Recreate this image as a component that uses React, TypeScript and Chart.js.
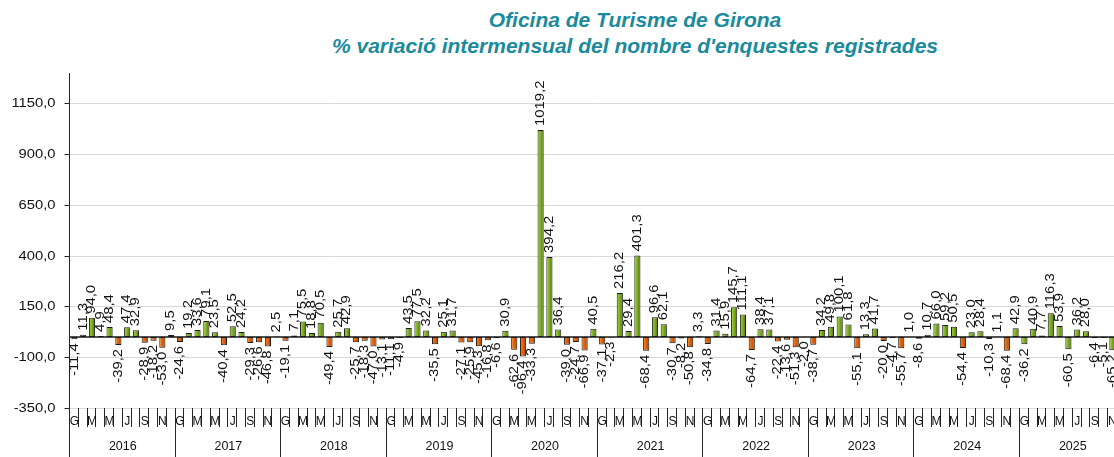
import React, { useEffect, useRef } from 'react';
import { Chart, registerables } from 'chart.js';

Chart.register(...registerables);

const TITLE_1 = 'Oficina de Turisme de Girona';
const TITLE_2 = "% variació intermensual del nombre d'enquestes registrades";

const YEARS = ['2016', '2017', '2018', '2019', '2020', '2021', '2022', '2023', '2024', '2025'];
const MONTH_INITIALS = ['G', 'F', 'M', 'A', 'M', 'J', 'J', 'A', 'S', 'O', 'N', 'D'];
const Y_TICKS = [-350, -100, 150, 400, 650, 900, 1150];
const Y_MIN = -350;
const Y_MAX = 1300;

const V2016 = [-11.4, 11.3, 94.0, 4.9, 48.4, -39.2, 47.4, 32.9, -28.9, -18.2, -53.0, 9.5];
const V2017 = [-24.6, 19.2, 33.6, 79.1, 23.5, -40.4, 52.5, 24.2, -29.3, -26.6, -46.8, 2.5];
const V2018 = [-19.1, 7.1, 75.5, 18.8, 70.5, -49.4, 25.7, 42.9, -25.7, -18.3, -47.0, -13.1];
const V2019 = [-11.1, -4.9, 43.5, 77.5, 32.2, -35.5, 25.1, 31.7, -27.1, -25.9, -45.3, -16.8];
const V2020 = [-6.6, 30.9, -62.6, -96.4, -33.3, 1019.2, 394.2, 36.4, -39.0, -24.7, -66.9, 40.5];
const V2021 = [-37.1, -2.3, 216.2, 29.4, 401.3, -68.4, 96.6, 62.1, -30.7, -8.2, -50.8, 3.3];
const V2022 = [-34.8, 31.4, 15.9, 145.7, 111.1, -64.7, 38.4, 37.1, -22.4, -13.6, -51.3, -2.0];
const V2023 = [-38.7, 34.2, 49.8, 100.1, 61.8, -55.1, 13.3, 41.7, -20.0, -4.7, -55.7, 1.0];
const V2024 = [-8.6, 10.7, 66.0, 59.2, 50.5, -54.4, 23.0, 28.4, -10.3, 1.1, -68.4, 42.9];
const V2025 = [-36.2, 40.9, 7.7, 116.3, 53.9, -60.5, 36.2, 28.0, -6.4, -5.1, -65.2, null];

const VALUES_BY_YEAR = [V2016, V2017, V2018, V2019, V2020, V2021, V2022, V2023, V2024, V2025];
const GREEN_NEGATIVE_YEARS = ['2025'];

const FONT = "'Liberation Sans', Arial, sans-serif";

const fmt = (v: number) => v.toFixed(1).replace('.', ',');

function scaledText(ctx: CanvasRenderingContext2D, text: string, x: number, y: number, rot: number, sx: number, align: CanvasTextAlign) {
  ctx.save();
  ctx.translate(x, y);
  if (rot) ctx.rotate(rot);
  ctx.scale(sx, 1);
  ctx.textAlign = align;
  ctx.fillText(text, 0, 0);
  ctx.restore();
}

export default function App() {
  const ref = useRef<HTMLCanvasElement | null>(null);

  useEffect(() => {
    const canvas = ref.current;
    if (!canvas) return;
    const labels = YEARS.flatMap((y) => MONTH_INITIALS.map((m) => `${m} ${y}`));
    const data = VALUES_BY_YEAR.flat();
    const isGreen = (i: number, v: number) => v >= 0 || GREEN_NEGATIVE_YEARS.includes(YEARS[Math.floor(i / 12)]);

    const customPlugin = {
      id: 'customAxes',
      beforeDatasetsDraw(chart: any) {
        const { ctx, chartArea: a, scales } = chart;
        const y = scales.y;
        ctx.save();
        ctx.lineWidth = 1;
        ctx.strokeStyle = '#d9d9d9';
        for (const t of Y_TICKS) {
          if (t === Y_MIN) continue;
          const py = Math.round(y.getPixelForValue(t)) + 0.5;
          ctx.beginPath();
          ctx.moveTo(a.left, py);
          ctx.lineTo(a.right, py);
          ctx.stroke();
        }
        const zy = y.getPixelForValue(0);
        ctx.strokeStyle = '#1a1a1a';
        ctx.lineWidth = 1.6;
        ctx.beginPath();
        ctx.moveTo(a.left, zy);
        ctx.lineTo(a.right, zy);
        ctx.stroke();
        ctx.restore();
      },
      afterDatasetsDraw(chart: any) {
        const { ctx, chartArea: a, scales } = chart;
        const x = scales.x;
        const y = scales.y;
        const n = labels.length;
        const step = (a.right - a.left) / n;
        ctx.save();
        ctx.fillStyle = '#111111';
        ctx.font = `12px ${FONT}`;
        ctx.textBaseline = 'middle';
        data.forEach((v, i) => {
          if (v == null) return;
          const px = x.getPixelForValue(i);
          const py = y.getPixelForValue(v);
          if (v >= 0) scaledText(ctx, fmt(v), px, py - 4, -Math.PI / 2, 1.24, 'left');
          else scaledText(ctx, fmt(v), px, py + 4, -Math.PI / 2, 1.24, 'right');
        });
        ctx.strokeStyle = '#262626';
        ctx.lineWidth = 1;
        const ax = Math.round(a.left) - 0.5;
        ctx.beginPath();
        ctx.moveTo(ax, a.top);
        ctx.lineTo(ax, chart.height);
        ctx.stroke();
        ctx.fillStyle = '#111111';
        ctx.font = `12px ${FONT}`;
        ctx.textBaseline = 'middle';
        for (const t of Y_TICKS) {
          const py = Math.round(y.getPixelForValue(t)) + 0.5;
          ctx.beginPath();
          ctx.moveTo(ax - 5, py);
          ctx.lineTo(ax, py);
          ctx.stroke();
          scaledText(ctx, fmt(t), ax - 14, py, 0, 1.23, 'right');
        }
        const by = Math.round(a.bottom) + 0.5;
        ctx.beginPath();
        ctx.moveTo(a.left, by);
        ctx.lineTo(a.right, by);
        ctx.strokeStyle = '#d9d9d9';
        ctx.stroke();
        ctx.strokeStyle = '#262626';
        for (let i = 0; i <= n; i++) {
          const px = Math.round(a.left + i * step) - 0.5;
          ctx.beginPath();
          ctx.moveTo(px, a.bottom);
          ctx.lineTo(px, i % 12 === 0 ? chart.height : a.bottom + 19);
          ctx.stroke();
        }
        ctx.font = `12px ${FONT}`;
        ctx.textAlign = 'center';
        for (let i = 0; i < n; i++) {
          const m = i % 12;
          if (m % 2 !== 0) continue;
          ctx.fillText(MONTH_INITIALS[m], a.left + (i + 0.5) * step, a.bottom + 14);
        }
        ctx.font = `12.5px ${FONT}`;
        YEARS.forEach((yr, k) => {
          ctx.fillText(yr, a.left + (k * 12 + 6) * step, a.bottom + 39);
        });
        ctx.restore();
      },
    };

    const chart = new Chart(canvas, {
      type: 'bar',
      data: {
        labels,
        datasets: [
          {
            label: '% variació intermensual',
            data,
            categoryPercentage: 1,
            barPercentage: 0.7,
            borderColor: '#1a1a1a',
            borderWidth: 1,
            borderSkipped: false,
            backgroundColor: (c: any) => {
              const ch = c.chart;
              const v = c.raw;
              const green = v == null || isGreen(c.dataIndex, v);
              const fallback = green ? '#7fae1f' : '#e8680c';
              if (v == null || !ch.scales || !ch.scales.x) return fallback;
              const px = ch.scales.x.getPixelForValue(c.dataIndex);
              if (!Number.isFinite(px)) return fallback;
              const g = ch.ctx.createLinearGradient(px - 3.2, 0, px + 3.2, 0);
              if (green) {
                g.addColorStop(0, '#a2d336');
                g.addColorStop(0.4, '#86b825');
                g.addColorStop(1, '#4a6c0e');
              } else {
                g.addColorStop(0, '#f7861c');
                g.addColorStop(0.4, '#ea670b');
                g.addColorStop(1, '#a84200');
              }
              return g;
            },
          },
        ],
      },
      options: {
        responsive: false,
        animation: false,
        layout: { padding: { left: 70, right: 4.4, top: 73, bottom: 49 } },
        plugins: { legend: { display: false }, title: { display: false }, tooltip: { enabled: false } },
        scales: {
          x: { display: false, offset: true, grid: { display: false } },
          y: { display: false, min: Y_MIN, max: Y_MAX },
        },
      },
      plugins: [customPlugin],
    });
    return () => chart.destroy();
  }, []);

  const titleStyle: React.CSSProperties = {
    position: 'absolute',
    left: 0,
    width: 1270,
    textAlign: 'center',
    fontFamily: FONT,
    fontWeight: 'bold',
    fontStyle: 'italic',
    fontSize: 21,
    lineHeight: '24px',
    color: '#1a8a9c',
    whiteSpace: 'nowrap',
  };

  return (
    <div style={{ position: 'fixed', left: 0, top: 0, width: 1114, height: 457, overflow: 'hidden', background: '#fff' }}>
      <div style={{ ...titleStyle, top: 8 }}>{TITLE_1}</div>
      <div style={{ ...titleStyle, top: 34 }}>{TITLE_2}</div>
      <canvas ref={ref} width={1130} height={457} style={{ position: 'absolute', left: 0, top: 0, display: 'block' }} />
    </div>
  );
}
